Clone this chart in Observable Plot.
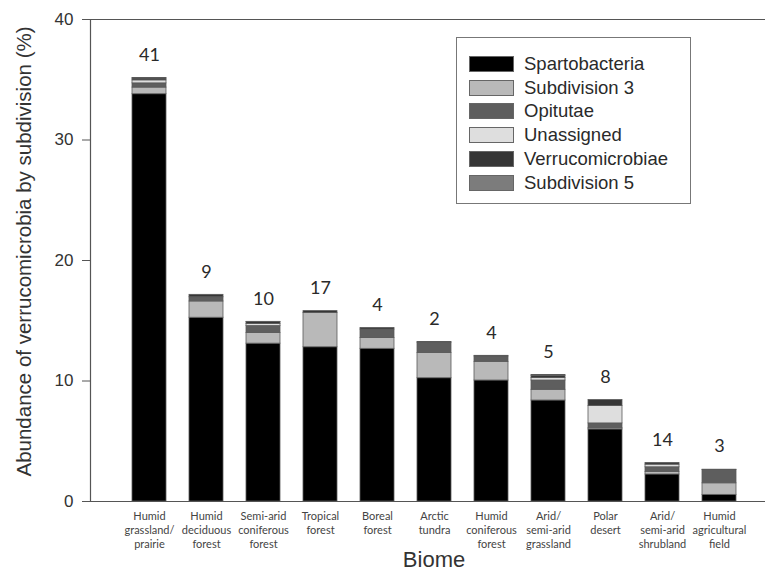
<!DOCTYPE html>
<html>
<head>
<meta charset="utf-8">
<script src="https://cdn.jsdelivr.net/npm/d3@7"></script>
<script src="https://cdn.jsdelivr.net/npm/@observablehq/plot@0.6"></script>
<style>
  body { margin: 0; background: #fff; }
  #wrap { position: relative; width: 765px; height: 583px; }
  #legend { position: absolute; left: 456px; top: 37px; width: 235px; height: 167px; border: 1px solid #777; box-sizing: border-box; background: #fff; font-family: "Liberation Sans", Arial, sans-serif; font-size: 18.5px; color: #2a2a2a; }
  .row { position: absolute; left: 12px; height: 16px; display: flex; align-items: center; }
  .sw { width: 43px; height: 14px; border: 1px solid #666; margin-right: 10px; }
</style>
</head>
<body>
<div id="wrap"></div>
<script>
const biomes = [
  "Humid\ngrassland/\nprairie", "Humid\ndeciduous\nforest", "Semi-arid\nconiferous\nforest",
  "Tropical\nforest", "Boreal\nforest", "Arctic\ntundra", "Humid\nconiferous\nforest",
  "Arid/\nsemi-arid\ngrassland", "Polar\ndesert", "Arid/\nsemi-arid\nshrubland", "Humid\nagricultural\nfield"
];
const sampleCounts = [41, 9, 10, 17, 4, 2, 4, 5, 8, 14, 3];
const subdivisions = ["Spartobacteria", "Subdivision 3", "Opitutae", "Unassigned", "Verrucomicrobiae", "Subdivision 5"];
const spartobacteria   = [33.8, 15.25, 13.1, 12.8, 12.67, 10.23, 10.04, 8.38, 5.98, 2.24, 0.55];
const subdivision3     = [0.55, 1.35, 0.88, 2.85, 0.9, 2.1, 1.55, 0.89, 0.1, 0.22, 0.96];
const opitutae         = [0.35, 0.35, 0.58, 0, 0.7, 0.85, 0.45, 0.77, 0.4, 0.38, 1.1];
const unassigned       = [0.25, 0, 0.18, 0, 0, 0, 0, 0.2, 1.44, 0.22, 0];
const verrucomicrobiae = [0.15, 0.2, 0.15, 0.15, 0.13, 0.05, 0.05, 0.2, 0.5, 0.14, 0.03];
const subdivision5     = [0.05, 0, 0.02, 0, 0, 0, 0, 0.05, 0, 0, 0];
const yTicks = [0, 10, 20, 30, 40];
const colors = ["#000000", "#b9b9b9", "#5e5e5e", "#dedede", "#363636", "#7c7c7c"];

const seriesValues = [spartobacteria, subdivision3, opitutae, unassigned, verrucomicrobiae, subdivision5];
const rows = [];
biomes.forEach((b, i) => {
  subdivisions.forEach((s, j) => rows.push({biome: b, subdivision: s, value: seriesValues[j][i]}));
});
const totals = biomes.map((b, i) => ({biome: b, total: d3.sum(seriesValues, v => v[i]), n: sampleCounts[i]}));

const chart = Plot.plot({
  width: 765,
  height: 583,
  marginLeft: 90,
  marginRight: 0,
  marginTop: 19,
  marginBottom: 82,
  style: {background: "#fff"},
  x: {domain: biomes, paddingInner: 0.4, paddingOuter: 0.61, align: 0.588},
  y: {domain: [0, 40]},
  color: {domain: subdivisions, range: colors},
  marks: [
    Plot.barY(rows, {x: "biome", y: "value", fill: "subdivision", stroke: "#5a5a5a", strokeWidth: 0.8, order: null}),
    Plot.text(totals, {x: "biome", y: "total", text: d => String(d.n), dy: -23, fontSize: 18, fill: "#2a2a2a", fontFamily: "Lato"}),
    Plot.ruleY([0, 40], {stroke: "#555", strokeWidth: 1.2}),
    Plot.frame({anchor: "left", stroke: "#555", strokeWidth: 1.2}),
    Plot.axisY({ticks: yTicks, tickSize: 8, tickPadding: 9, fontSize: 17, fontFamily: "Liberation Sans", color: "#333", stroke: "#555", label: null}),
    Plot.axisX({tickSize: 0, tickPadding: 9, fontSize: 11, lineHeight: 1.27, fontFamily: "Lato", color: "#444", label: null}),
    Plot.text(["Abundance of verrucomicrobia by subdivision (%)"], {frameAnchor: "left", textAnchor: "middle", rotate: -90, dx: -66, dy: -9, fontSize: 20.5, fontFamily: "Liberation Sans", fill: "#333"}),
    Plot.text(["Biome"], {frameAnchor: "bottom", dy: 65, dx: 6, fontSize: 22, fontFamily: "Liberation Sans", fill: "#333"})
  ]
});
const wrap = document.getElementById("wrap");
wrap.appendChild(chart);

const legend = document.createElement("div");
legend.id = "legend";
subdivisions.forEach((s, j) => {
  const r = document.createElement("div");
  r.className = "row";
  r.style.top = (18 + j * 23.7) + "px";
  const sw = document.createElement("div");
  sw.className = "sw";
  sw.style.background = colors[j];
  const t = document.createElement("span");
  t.textContent = s;
  r.appendChild(sw); r.appendChild(t);
  legend.appendChild(r);
});
wrap.appendChild(legend);
</script>
</body>
</html>
